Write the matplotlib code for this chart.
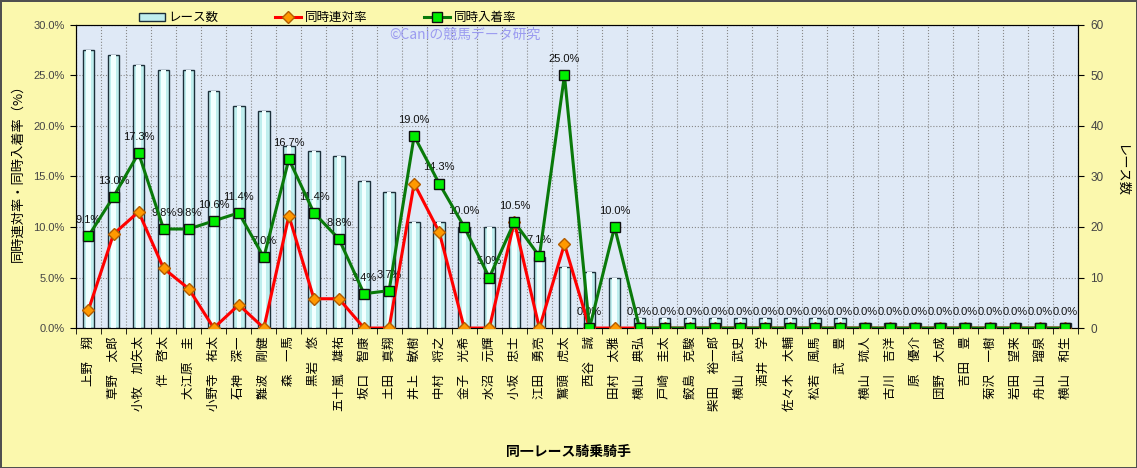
import numpy as np
import matplotlib
matplotlib.use('Agg')
import matplotlib.pyplot as plt
from matplotlib.patches import Patch
from matplotlib.lines import Line2D

plt.rcParams['font.family'] = ['Noto Sans CJK JP', 'DejaVu Sans']

# Data
jockeys = ['上野　翔', '草野　太郎', '小牧　加矢太', '伴　啓太', '大江原　圭', '小野寺　祐太',
           '石神　深一', '難波　剛健', '森　一馬', '黒岩　悠', '五十嵐　雄祐', '坂口　智康',
           '土田　真翔', '井上　敏樹', '中村　将之', '金子　光希', '水沼　元輝', '小坂　忠士',
           '江田　勇亮', '鷲頭　虎太', '西谷　誠', '田村　太雅', '横山　典弘', '戸崎　圭太',
           '鮫島　克駿', '柴田　裕一郎', '横山　武史', '酒井　学', '佐々木　大輔', '松若　風馬',
           '武　豊', '横山　琉人', '古川　吉洋', '原　優介', '団野　大成', '吉田　豊',
           '菊沢　一樹', '岩田　望来', '舟山　瑠泉', '横山　和生']
races = [55, 54, 52, 51, 51, 47, 44, 43, 36, 35, 34, 29, 27, 21, 21, 20, 20, 19, 14, 12,
         11, 10, 2, 2, 2, 2, 2, 2, 2, 2, 2, 1, 1, 1, 1, 1, 1, 1, 1, 1]
rentai_rate = [1.8, 9.3, 11.5, 5.9, 3.9, 0.0, 2.3, 0.0, 11.1, 2.9, 2.9, 0.0, 0.0, 14.3, 9.5,
               0.0, 0.0, 10.5, 0.0, 8.3, 0.0, 0.0, 0.0, 0.0, 0.0, 0.0, 0.0, 0.0, 0.0, 0.0,
               0.0, 0.0, 0.0, 0.0, 0.0, 0.0, 0.0, 0.0, 0.0, 0.0]
nyuchaku_rate = [9.1, 13.0, 17.3, 9.8, 9.8, 10.6, 11.4, 7.0, 16.7, 11.4, 8.8, 3.4, 3.7, 19.0,
                 14.3, 10.0, 5.0, 10.5, 7.1, 25.0, 0.0, 10.0, 0.0, 0.0, 0.0, 0.0, 0.0, 0.0,
                 0.0, 0.0, 0.0, 0.0, 0.0, 0.0, 0.0, 0.0, 0.0, 0.0, 0.0, 0.0]

x = np.arange(len(jockeys))
num_font = ['Liberation Sans', 'DejaVu Sans']

fig = plt.figure(figsize=(11.37, 4.68), dpi=100)
fig.patch.set_facecolor('#fbf8ad')
fig.patch.set_edgecolor('#505050')
fig.patch.set_linewidth(2)

# bars on the primary axes (right-hand scale), lines on the twin (left-hand scale)
ax = fig.add_axes([0.0668, 0.299, 0.8813, 0.648])
ax.set_facecolor('#dfe9f6')
ax.bar(x, races, width=0.46, color='#bfeeee', edgecolor='#1c2f3a', linewidth=1.0, zorder=2)
ax.bar(x, races, width=0.18, color='#f2ffff', linewidth=0, zorder=3)
ax.set_ylim(0, 60)
ax.set_yticks(range(0, 61, 10))
ax.set_xlim(-0.5, len(jockeys) - 0.5)
ax.set_xticks(x)
ax.set_xticklabels(jockeys, rotation=90, fontsize=9, va='top', ha='center')
ax.set_xticks(np.arange(-0.5, len(jockeys), 1), minor=True)
ax.tick_params(axis='x', which='major', length=0, pad=6)
ax.tick_params(axis='x', which='minor', length=4)
ax.grid(axis='y', which='major', color='#888888', linestyle=':', linewidth=0.8, zorder=1)
ax.grid(axis='x', which='minor', color='#888888', linestyle=':', linewidth=0.8, zorder=1)
ax.set_axisbelow(True)
for s in ax.spines.values():
    s.set_color('#333333')

ax2 = ax.twinx()
# twinx moves the primary ticks to the left, so swap sides afterwards
ax.yaxis.tick_right()
ax.yaxis.set_label_position('right')
ax.tick_params(axis='y', labelsize=8.5, labelcolor='#444444', length=4, pad=5)
for lab in ax.get_yticklabels():
    lab.set_family(num_font)
ax2.yaxis.tick_left()
ax2.yaxis.set_label_position('left')

ax2.plot(x, rentai_rate, color='#ff0000', linewidth=2.2, marker='D', markersize=6,
         markerfacecolor='#ff9900', markeredgecolor='#b35c00', zorder=4)
ax2.plot(x, nyuchaku_rate, color='#0a7a0a', linewidth=2.2, marker='s', markersize=7.5,
         markerfacecolor='#00ee00', markeredgecolor='#111111', zorder=5)
for xi, v in zip(x, nyuchaku_rate):
    ax2.annotate(f'{v:.1f}%', (xi, v), xytext=(0, 8), textcoords='offset points',
                 ha='center', va='bottom', fontsize=8, color='#111111',
                 family=num_font)
ax2.set_ylim(0, 30)
ax2.set_yticks(range(0, 31, 5))
ax2.set_yticklabels([f'{t:.1f}%' for t in range(0, 31, 5)], family=num_font)
ax2.tick_params(axis='y', labelsize=8, labelcolor='#444444', length=4, pad=4)

fig.text(0.016, 0.637, '同時連対率・同時入着率（%）', rotation=90, ha='center', va='center',
         fontsize=9.5)
fig.text(0.986, 0.635, 'レース数', rotation=-90, ha='center', va='center', fontsize=9.5)
fig.text(0.5, 0.034, '同一レース騎乗騎手', ha='center', va='center', fontsize=10,
         fontweight='bold')
fig.text(0.409, 0.925, '©Caniの競馬データ研究', ha='center', va='center', fontsize=10,
         color='#9b9bf0')

handles = [Patch(facecolor='#bfeeee', edgecolor='#1c2f3a', label='レース数'),
           Line2D([], [], color='#ff0000', lw=2.2, marker='D', markersize=6,
                  markerfacecolor='#ff9900', markeredgecolor='#b35c00', label='同時連対率'),
           Line2D([], [], color='#0a7a0a', lw=2.2, marker='s', markersize=7,
                  markerfacecolor='#00ee00', markeredgecolor='#111111', label='同時入着率')]
fig.legend(handles=handles, loc='center', bbox_to_anchor=(0.288, 0.962), ncol=3,
           frameon=False, fontsize=9, columnspacing=4.5, handlelength=2.1,
           handletextpad=0.3)

plt.savefig('out.png', dpi=100, facecolor=fig.get_facecolor(), edgecolor=fig.get_edgecolor())
